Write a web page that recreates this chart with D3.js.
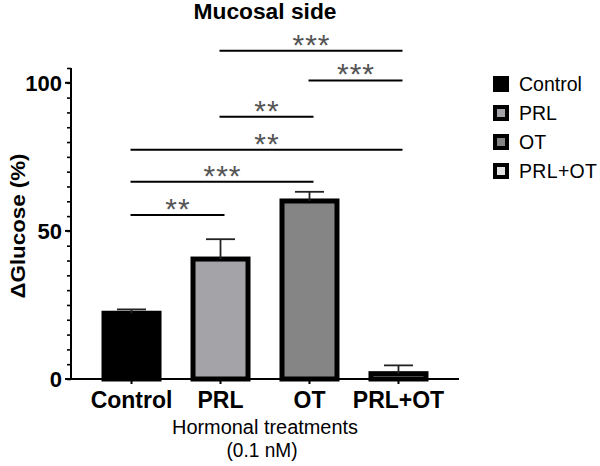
<!DOCTYPE html>
<html lang="en">
<head>
  <meta charset="UTF-8">
  <title>Mucosal side</title>
  <script src="https://d3js.org/d3.v7.min.js"></script>
  <style>
    body { margin: 0; background: #fff; }
    svg { display: block; font-family: "Liberation Sans", Arial, sans-serif; }
  </style>
</head>
<body>
  <svg width="600" height="466"></svg>

  <script>
    // data
    const groups = ['Control', 'PRL', 'OT', 'PRL+OT'];
    const means = [22.2, 40.5, 60.1, 1.8];
    const errors = [1.3, 6.7, 3.1, 2.8];
    const fills = ['#000000', '#a4a4a8', '#858585', '#e2e2e2'];
    // significance brackets: from, to, label, height in y units
    const comparisons = [
      ['PRL', 'PRL+OT', '***', 110.8],
      ['OT', 'PRL+OT', '***', 100.8],
      ['PRL', 'OT', '**', 88.5],
      ['Control', 'PRL+OT', '**', 77.4],
      ['Control', 'OT', '***', 66.6],
      ['Control', 'PRL', '**', 55.4]
    ];
    const yTicks = [0, 50, 100];

    const svg = d3.select('svg');
    const x = d3.scalePoint().domain(groups).range([71, 459]).padding(0.68);
    const y = d3.scaleLinear().domain([0, 105]).range([379, 68]);
    const barW = 55;

    // title
    svg.append('text')
      .attr('x', 265).attr('y', 19)
      .attr('text-anchor', 'middle')
      .attr('font-size', 22).attr('font-weight', 'bold')
      .attr('textLength', 143).attr('lengthAdjust', 'spacingAndGlyphs')
      .text('Mucosal side');

    // bars
    svg.append('g').selectAll('rect')
      .data(groups)
      .join('rect')
      .attr('x', d => x(d) - barW / 2)
      .attr('y', (d, i) => y(means[i]))
      .attr('width', barW)
      .attr('height', (d, i) => y(0) - y(means[i]))
      .attr('fill', (d, i) => fills[i])
      .attr('stroke', '#000')
      .attr('stroke-width', 5);

    // error bars
    const eb = svg.append('g').attr('stroke', '#222').attr('stroke-width', 1.8);
    groups.forEach((g, i) => {
      const top = y(means[i] + errors[i]);
      eb.append('line')
        .attr('x1', x(g)).attr('x2', x(g))
        .attr('y1', y(means[i])).attr('y2', top);
      eb.append('line')
        .attr('x1', x(g) - 14.5).attr('x2', x(g) + 14.5)
        .attr('y1', top).attr('y2', top);
    });

    // y axis with minor ticks every 5
    const yAxis = svg.append('g').attr('transform', 'translate(71,0)');
    yAxis.call(d3.axisLeft(y).tickValues(d3.range(0, 106, 5)).tickSize(4).tickFormat(''))
      .call(g => g.select('.domain').remove());
    yAxis.selectAll('line').attr('stroke', '#000').attr('stroke-width', 1.6);
    yAxis.append('line')
      .attr('y1', y(105)).attr('y2', y(0) + 1)
      .attr('stroke', '#000').attr('stroke-width', 2);
    yAxis.selectAll('.major')
      .data(yTicks)
      .join('line')
      .attr('x1', -6).attr('x2', 0)
      .attr('y1', d => y(d)).attr('y2', d => y(d))
      .attr('stroke', '#000').attr('stroke-width', 2);
    yAxis.selectAll('.lab')
      .data(yTicks)
      .join('text')
      .attr('x', -9).attr('y', d => y(d))
      .attr('dy', '0.36em')
      .attr('text-anchor', 'end')
      .attr('fill', '#000')
      .attr('font-family', '"Liberation Sans", Arial, sans-serif')
      .attr('font-size', 22).attr('font-weight', 'bold')
      .text(d => d);

    // x axis
    const xAxis = svg.append('g').attr('transform', `translate(0,${y(0)})`);
    xAxis.append('line')
      .attr('x1', 68).attr('x2', 459)
      .attr('stroke', '#000').attr('stroke-width', 2);
    xAxis.selectAll('.tk')
      .data(groups)
      .join('line')
      .attr('x1', d => x(d)).attr('x2', d => x(d))
      .attr('y1', 0).attr('y2', 5)
      .attr('stroke', '#000').attr('stroke-width', 2);
    xAxis.selectAll('text')
      .data(groups)
      .join('text')
      .attr('x', d => x(d)).attr('y', 29)
      .attr('text-anchor', 'middle')
      .attr('font-size', 23).attr('font-weight', 'bold')
      .text(d => d);

    // axis titles
    svg.append('text')
      .attr('x', 265).attr('y', 434)
      .attr('text-anchor', 'middle')
      .attr('font-size', 19.5)
      .attr('textLength', 186).attr('lengthAdjust', 'spacingAndGlyphs')
      .text('Hormonal treatments');
    svg.append('text')
      .attr('x', 262).attr('y', 457)
      .attr('text-anchor', 'middle')
      .attr('font-size', 19.5)
      .attr('textLength', 71).attr('lengthAdjust', 'spacingAndGlyphs')
      .text('(0.1 nM)');
    svg.append('text')
      .attr('transform', 'translate(25,226) rotate(-90)')
      .attr('text-anchor', 'middle')
      .attr('font-size', 21).attr('font-weight', 'bold')
      .attr('textLength', 145).attr('lengthAdjust', 'spacingAndGlyphs')
      .text('ΔGlucose (%)');

    // significance brackets
    const sig = svg.append('g');
    comparisons.forEach(([a, b, label, h]) => {
      sig.append('line')
        .attr('x1', x(a) - 1).attr('x2', x(b) + 4)
        .attr('y1', y(h)).attr('y2', y(h))
        .attr('stroke', '#000').attr('stroke-width', 2);
      sig.append('text')
        .attr('x', (x(a) + x(b)) / 2 + 2)
        .attr('y', y(h) + 4)
        .attr('text-anchor', 'middle')
        .attr('font-size', 30)
        .attr('letter-spacing', 1)
        .attr('fill', '#555')
        .text(label);
    });

    // legend
    const legend = svg.append('g').attr('transform', 'translate(493,0)');
    const rowY = [84, 113, 142, 171];
    groups.forEach((g, i) => {
      legend.append('rect')
        .attr('x', 2).attr('y', rowY[i] - 6)
        .attr('width', 12).attr('height', 12)
        .attr('fill', fills[i])
        .attr('stroke', '#000').attr('stroke-width', 4);
      legend.append('text')
        .attr('x', 26).attr('y', rowY[i] + 7)
        .attr('font-size', 19.5)
        .attr('textLength', i === 3 ? 78 : null)
        .text(g);
    });
  </script>
</body>
</html>
